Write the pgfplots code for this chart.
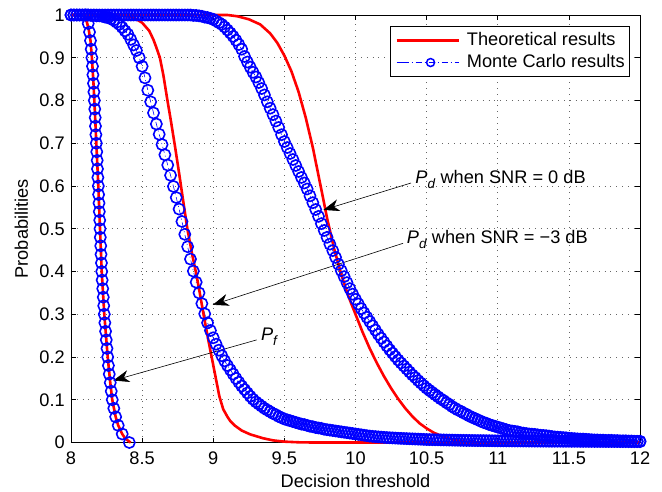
\documentclass[border=0pt]{standalone}
\usepackage{pgfplots}
\pgfplotsset{compat=1.18}
\usepackage{pgfplotstable}
\usetikzlibrary{arrows.meta}
\usepackage{fontspec}
\setmainfont{Liberation Sans}

\pgfplotstableread{
x a b
8.00 1.000 1.000
8.02 1.000 1.000
8.04 1.000 1.000
8.06 1.000 1.000
8.08 1.000 1.000
8.10 1.000 1.000
8.12 1.000 1.000
8.14 0.999 1.000
8.16 0.999 1.000
8.18 0.998 1.000
8.20 0.998 1.000
8.22 0.997 1.000
8.24 0.995 1.000
8.26 0.994 1.000
8.28 0.991 1.000
8.30 0.988 1.000
8.32 0.983 1.000
8.34 0.978 1.000
8.36 0.971 1.000
8.38 0.963 1.000
8.40 0.955 1.000
8.42 0.943 1.000
8.44 0.930 1.000
8.46 0.917 1.000
8.48 0.900 1.000
8.50 0.880 1.000
8.52 0.853 1.000
8.54 0.824 1.000
8.56 0.797 1.000
8.58 0.771 1.000
8.60 0.745 1.000
8.62 0.721 1.000
8.64 0.697 1.000
8.66 0.673 1.000
8.68 0.649 1.000
8.70 0.625 1.000
8.72 0.599 1.000
8.74 0.573 1.000
8.76 0.546 1.000
8.78 0.517 1.000
8.80 0.487 1.000
8.82 0.458 1.000
8.84 0.429 1.000
8.86 0.401 0.999
8.88 0.375 0.999
8.90 0.350 0.998
8.92 0.325 0.997
8.94 0.301 0.995
8.96 0.280 0.994
8.98 0.262 0.992
9.00 0.245 0.990
9.02 0.230 0.986
9.04 0.216 0.982
9.06 0.203 0.978
9.08 0.191 0.972
9.10 0.180 0.965
9.12 0.170 0.958
9.14 0.160 0.950
9.16 0.150 0.941
9.18 0.141 0.931
9.20 0.132 0.920
9.22 0.124 0.903
9.24 0.116 0.890
9.26 0.108 0.878
9.28 0.101 0.866
9.30 0.095 0.855
9.32 0.090 0.842
9.34 0.085 0.828
9.36 0.080 0.813
9.38 0.076 0.797
9.40 0.072 0.782
9.42 0.068 0.767
9.44 0.065 0.752
9.46 0.061 0.737
9.48 0.058 0.720
9.50 0.055 0.704
9.52 0.053 0.690
9.54 0.051 0.676
9.56 0.049 0.662
9.58 0.047 0.648
9.60 0.045 0.634
9.62 0.043 0.620
9.64 0.042 0.607
9.66 0.040 0.593
9.68 0.038 0.577
9.70 0.037 0.561
9.72 0.035 0.545
9.74 0.034 0.529
9.76 0.033 0.512
9.78 0.031 0.496
9.80 0.030 0.480
9.82 0.029 0.464
9.84 0.028 0.449
9.86 0.027 0.433
9.88 0.026 0.417
9.90 0.025 0.402
9.92 0.024 0.388
9.94 0.023 0.374
9.96 0.022 0.360
9.98 0.021 0.347
10.00 0.020 0.335
10.02 0.019 0.324
10.04 0.018 0.313
10.06 0.017 0.303
10.08 0.016 0.293
10.10 0.015 0.283
10.12 0.0144 0.273
10.14 0.0138 0.263
10.16 0.0132 0.253
10.18 0.0126 0.244
10.20 0.0120 0.235
10.22 0.0116 0.226
10.24 0.0112 0.217
10.26 0.0108 0.209
10.28 0.0104 0.201
10.30 0.0100 0.193
10.32 0.0097 0.186
10.34 0.0094 0.179
10.36 0.0091 0.172
10.38 0.0088 0.165
10.40 0.0085 0.158
10.42 0.0082 0.152
10.44 0.0079 0.145
10.46 0.0076 0.139
10.48 0.0073 0.133
10.50 0.0070 0.127
10.52 0.0068 0.122
10.54 0.0067 0.117
10.56 0.0065 0.112
10.58 0.0064 0.107
10.60 0.0062 0.102
10.62 0.0060 0.098
10.64 0.0059 0.093
10.66 0.0057 0.089
10.68 0.0056 0.084
10.70 0.0054 0.080
10.72 0.0053 0.076
10.74 0.0051 0.073
10.76 0.0050 0.069
10.78 0.0049 0.066
10.80 0.0048 0.062
10.82 0.0047 0.059
10.84 0.0046 0.056
10.86 0.0045 0.053
10.88 0.0045 0.050
10.90 0.0044 0.047
10.92 0.0043 0.045
10.94 0.0042 0.042
10.96 0.0041 0.040
10.98 0.0040 0.038
11.00 0.0040 0.036
11.02 0.0039 0.034
11.04 0.0039 0.032
11.06 0.0038 0.030
11.08 0.0038 0.028
11.10 0.0037 0.027
11.12 0.0037 0.026
11.14 0.0036 0.025
11.16 0.0036 0.023
11.18 0.0035 0.022
11.20 0.0035 0.021
11.22 0.0034 0.020
11.24 0.0034 0.0195
11.26 0.0033 0.019
11.28 0.0033 0.018
11.30 0.0032 0.017
11.32 0.0032 0.0165
11.34 0.0031 0.016
11.36 0.0031 0.015
11.38 0.0030 0.014
11.40 0.0030 0.013
11.42 0.0030 0.0125
11.44 0.0030 0.012
11.46 0.0029 0.0115
11.48 0.0029 0.011
11.50 0.0029 0.010
11.52 0.0028 0.0095
11.54 0.0028 0.009
11.56 0.0028 0.0085
11.58 0.0027 0.008
11.60 0.0027 0.008
11.62 0.0027 0.0075
11.64 0.0026 0.007
11.66 0.0026 0.0065
11.68 0.0026 0.006
11.70 0.0025 0.006
11.72 0.0025 0.0055
11.74 0.0025 0.0055
11.76 0.0024 0.005
11.78 0.0024 0.005
11.80 0.0024 0.005
11.82 0.0023 0.0045
11.84 0.0023 0.0045
11.86 0.0022 0.004
11.88 0.0022 0.004
11.90 0.0022 0.004
11.92 0.0021 0.0035
11.94 0.0021 0.0035
11.96 0.0021 0.003
11.98 0.0020 0.003
12.00 0.0020 0.003
}\mcpd

\pgfplotstableread{
x y
8.104 1.00
8.121 0.98
8.130 0.96
8.137 0.94
8.142 0.92
8.147 0.90
8.151 0.88
8.154 0.86
8.158 0.84
8.161 0.82
8.164 0.80
8.167 0.78
8.170 0.76
8.172 0.74
8.175 0.72
8.178 0.70
8.181 0.68
8.184 0.66
8.186 0.64
8.189 0.62
8.192 0.60
8.194 0.58
8.197 0.56
8.199 0.54
8.202 0.52
8.204 0.50
8.206 0.48
8.209 0.46
8.211 0.44
8.214 0.42
8.216 0.40
8.219 0.38
8.223 0.36
8.227 0.34
8.230 0.32
8.234 0.30
8.238 0.28
8.243 0.26
8.248 0.24
8.253 0.22
8.258 0.20
8.263 0.18
8.269 0.16
8.276 0.14
8.283 0.12
8.290 0.10
8.301 0.08
8.314 0.06
8.332 0.04
8.360 0.02
8.410 0.00
}\mcpf

\begin{document}
\fontsize{18.2}{21}\selectfont
\begin{tikzpicture}
\begin{axis}[
  name=ax,
  scale only axis,
  width=569pt, height=427.5pt,
  xmin=8, xmax=12, ymin=0, ymax=1,
  xtick={8,8.5,...,12}, ytick={0,0.1,...,1},
  /pgf/number format/assume math mode=true,
  tick align=inside,
  major tick length=5pt,
  tick style={black, line width=0.6pt},
  axis line style={black, line width=0.8pt},
  grid=major,
  major grid style={black!60, line width=0.7pt, dash pattern=on 0.8pt off 5pt},
  clip=false,
  xticklabel style={anchor=base, yshift=-22pt},
  xlabel={Decision threshold},
  ylabel={Probabilities},
  xlabel style={at={(axis description cs:0.5,-0.1041)}, anchor=base},
  ylabel style={at={(axis description cs:-0.0756,0.5)}, anchor=base},
  legend cell align=left,
  legend style={at={(0.9824,0.9743)}, anchor=north east, draw=black, line width=0.6pt,
    fill=white, inner xsep=5pt, inner ysep=5.5pt, row sep=4.5pt, column sep=7pt,
    nodes={inner sep=0pt, text height=13.5pt, text depth=4pt}},
  legend image code/.code={\path (0pt,0pt) -- (6pt,0pt); \draw[mark repeat=2,mark phase=2,#1] plot coordinates {(6pt,0pt) (34pt,0pt) (62pt,0pt)};},
]
\addlegendimage{red, line width=2.6pt}
\addlegendentry{Theoretical results}
\addlegendimage{blue, line width=0.8pt, dash pattern=on 6pt off 3pt on 1pt off 3pt, mark=o, mark size=4pt, mark options={solid, line width=1.5pt}}
\addlegendentry{Monte Carlo results}

% Monte Carlo
\addplot[forget plot, blue, line width=0.6pt, dash pattern=on 6pt off 3pt on 1pt off 3pt, mark=o, mark size=5.6pt, mark options={solid, line width=1.6pt}] table[x=x, y=a] {\mcpd};
\addplot[forget plot, blue, line width=0.6pt, dash pattern=on 6pt off 3pt on 1pt off 3pt, mark=o, mark size=5.6pt, mark options={solid, line width=1.6pt}] table[x=x, y=b] {\mcpd};
\addplot[forget plot, blue, line width=0.6pt, dash pattern=on 6pt off 3pt on 1pt off 3pt, mark=o, mark size=5.6pt, mark options={solid, line width=1.6pt}] table[x=x, y=y] {\mcpf};

% Theoretical
\addplot[forget plot, red, line width=2.6pt, line join=round] coordinates {
(8.00,1) (8.06,1) (8.09,0.997) (8.11,0.985) (8.125,0.965) (8.137,0.94) (8.147,0.90)
(8.158,0.84) (8.167,0.78) (8.178,0.70) (8.192,0.60) (8.204,0.50) (8.216,0.40)
(8.234,0.30) (8.258,0.20) (8.276,0.14) (8.290,0.10) (8.314,0.06) (8.332,0.04)
(8.360,0.02) (8.380,0.01) (8.41,0.002) (8.42,0)};
\addplot[forget plot, red, line width=2.6pt, line join=round] coordinates {
(8.00,1) (8.30,1.000) (8.35,0.999) (8.40,0.997) (8.45,0.992) (8.50,0.982) (8.55,0.963)
(8.58,0.942) (8.60,0.924) (8.625,0.900) (8.65,0.858) (8.678,0.800) (8.70,0.757)
(8.73,0.695) (8.76,0.630) (8.79,0.562) (8.818,0.500) (8.85,0.443) (8.877,0.400)
(8.90,0.360) (8.93,0.303) (8.965,0.240) (8.99,0.198) (9.02,0.147) (9.043,0.108)
(9.07,0.078) (9.10,0.060) (9.12,0.050) (9.15,0.040) (9.20,0.028) (9.26,0.019)
(9.30,0.015) (9.35,0.010) (9.42,0.005) (9.50,0.002) (9.60,0.0005) (9.70,0) (12,0)};
\addplot[forget plot, red, line width=2.6pt, line join=round] coordinates {
(8.00,1) (9.10,1.000) (9.17,0.997) (9.25,0.990) (9.33,0.978) (9.40,0.957) (9.45,0.935)
(9.50,0.905) (9.55,0.868) (9.60,0.820) (9.65,0.760) (9.70,0.690) (9.75,0.608)
(9.80,0.525) (9.85,0.453) (9.90,0.393) (9.95,0.342) (10.00,0.300) (10.05,0.258)
(10.10,0.220) (10.15,0.186) (10.20,0.155) (10.25,0.127) (10.30,0.102) (10.35,0.080)
(10.40,0.061) (10.45,0.045) (10.50,0.033) (10.55,0.023) (10.60,0.016) (10.65,0.010)
(10.70,0.006) (10.75,0.003) (10.80,0.001) (10.90,0) (12,0)};

% annotations
\draw[black, line width=0.6pt, -{Stealth[length=16pt, width=12pt, inset=5pt]}] (axis cs:10.390,0.607) -- (axis cs:9.774,0.544);
\node[anchor=west, inner sep=0pt] at (axis cs:10.42,0.615) {\textit{P}\raisebox{-0.55ex}{\fontsize{13.5}{14}\selectfont\textit{d}} when SNR = 0 dB};
\draw[black, line width=0.6pt, -{Stealth[length=16pt, width=12pt, inset=5pt]}] (axis cs:10.334,0.466) -- (axis cs:8.996,0.322);
\node[anchor=west, inner sep=0pt] at (axis cs:10.36,0.475) {\textit{P}\raisebox{-0.55ex}{\fontsize{13.5}{14}\selectfont\textit{d}} when SNR = −3 dB};
\draw[black, line width=0.6pt, -{Stealth[length=16pt, width=12pt, inset=5pt]}] (axis cs:9.305,0.240) -- (axis cs:8.297,0.145);
\node[anchor=west, inner sep=0pt] at (axis cs:9.335,0.248) {\textit{P}\raisebox{-0.55ex}{\fontsize{13.5}{14}\selectfont\textit{f}}};
\end{axis}
\pgfresetboundingbox
\path[use as bounding box] ([xshift=-71pt,yshift=-48.5pt]ax.south west) rectangle ([xshift=22pt,yshift=15pt]ax.north east);
\end{tikzpicture}
\end{document}
